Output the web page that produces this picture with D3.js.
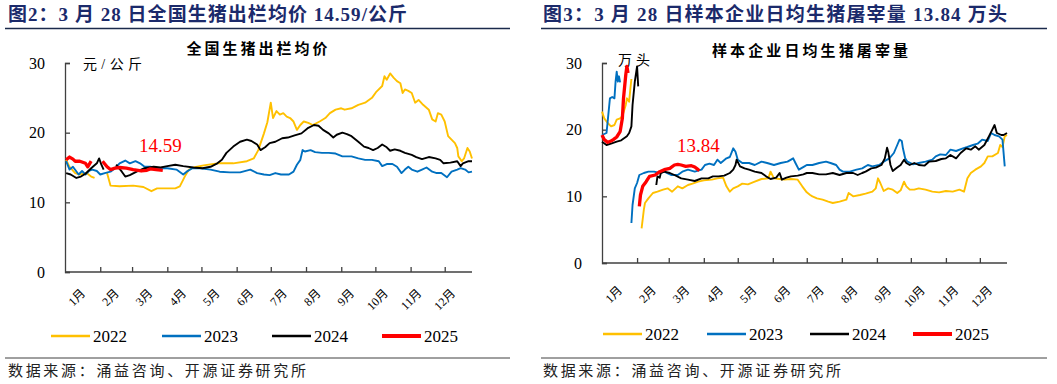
<!DOCTYPE html>
<html>
<head>
<meta charset="utf-8">
<script src="https://cdn.jsdelivr.net/npm/d3@7"></script>
<style>
  body { margin: 0; background: #fff; }
  svg text { font-family: "Liberation Serif", "Noto Sans CJK SC", serif; }
  .cjk { font-family: "Liberation Serif", "Noto Sans CJK SC", sans-serif; }
</style>
</head>
<body>
<svg id="chart" width="1057" height="384"></svg>
<script>
// 年份 / 颜色
const years = ['2022', '2023', '2024', '2025'];
const colors = ['#FFC000', '#0070C0', '#000000', '#FF0000'];
const months = ['1月', '2月', '3月', '4月', '5月', '6月', '7月', '8月', '9月', '10月', '11月', '12月'];
const monthStarts = [0, 31, 59, 90, 120, 151, 181, 212, 243, 273, 304, 334];
const yTicks = [0, 10, 20, 30];

// 图2 全国生猪出栏均价 (元/公斤), [日序, 数值], null = 断开
const price2022 = [[1,16.1],[4,15.1],[9,14.2],[13,14.0],[19,14.2],[23,13.7],[26,13.5],[30,null],[37,14.2],[40,12.4],[48,12.3],[60,12.4],[69,12.2],[76,11.6],[81,12.0],[90,12.0],[97,12.0],[101,12.3],[106,13.9],[109,14.7],[113,15.0],[122,15.3],[134,15.6],[148,15.6],[160,15.9],[166,16.3],[170,17.5],[175,19.9],[178,21.5],[181,24.3],[183,22.1],[186,23.1],[189,22.6],[192,22.8],[195,22.3],[198,22.1],[201,21.6],[204,20.4],[207,21.1],[210,21.6],[214,21.4],[218,21.1],[224,21.6],[229,22.1],[233,22.8],[238,23.3],[243,23.5],[246,23.3],[252,23.5],[258,24.0],[264,24.3],[270,25.0],[274,25.9],[279,26.7],[281,28.1],[283,27.6],[286,28.5],[289,27.9],[292,27.4],[295,27.1],[297,25.7],[299,26.2],[302,26.0],[305,25.7],[308,24.3],[311,24.7],[315,24.0],[320,23.3],[323,21.9],[326,21.6],[328,22.8],[331,22.6],[334,21.6],[337,19.5],[340,19.0],[343,18.5],[345,17.8],[346,16.6],[349,15.9],[351,16.3],[354,17.8],[356,17.3],[358,16.3]];
const price2023 = [[1,15.9],[4,14.7],[7,15.1],[12,14.0],[15,14.5],[18,14.0],[21,14.5],[24,14.7],[28,14.5],[31,14.0],[35,14.2],[40,14.4],[44,14.9],[48,15.6],[53,16.0],[57,15.6],[62,15.9],[66,15.6],[70,15.1],[75,15.1],[81,14.9],[90,14.9],[98,14.7],[104,14.0],[107,14.4],[112,14.9],[119,14.9],[128,14.7],[136,14.4],[145,14.3],[154,14.3],[163,14.7],[169,14.2],[175,14.0],[180,13.9],[185,14.2],[190,14.0],[197,14.0],[201,14.4],[204,15.4],[207,16.1],[209,17.5],[211,17.3],[216,17.5],[220,17.2],[226,17.1],[232,17.1],[238,17.0],[244,16.6],[252,16.6],[258,16.3],[264,16.1],[270,16.1],[276,15.9],[279,15.2],[283,15.5],[288,15.5],[292,15.1],[296,14.2],[299,14.7],[302,15.1],[305,14.7],[310,14.4],[314,14.7],[318,15.0],[323,14.4],[327,14.2],[331,14.2],[336,13.6],[340,14.4],[345,14.7],[348,14.9],[352,14.7],[355,14.3],[358,14.4]];
const price2024 = [[1,14.2],[5,14.0],[10,13.5],[14,13.7],[18,14.1],[23,14.9],[28,15.6],[30,16.3],[32,15.4],[34,14.7],[35,null],[45,15.4],[50,14.4],[53,13.7],[57,13.9],[63,14.4],[70,14.9],[78,15.1],[84,15.0],[90,15.2],[97,15.4],[104,15.2],[113,15.0],[121,14.9],[128,15.1],[134,15.6],[138,16.1],[142,17.1],[148,18.0],[154,18.7],[160,19.0],[164,18.8],[169,18.3],[172,17.5],[176,17.9],[180,18.5],[185,18.7],[191,19.2],[196,19.3],[202,19.6],[208,19.9],[214,20.7],[219,21.1],[223,21.0],[227,20.4],[232,19.9],[236,19.3],[239,19.7],[244,20.0],[248,19.8],[252,19.5],[258,18.7],[263,18.0],[267,17.8],[271,17.5],[275,17.8],[279,18.3],[283,17.9],[286,17.4],[290,17.6],[295,17.4],[299,17.1],[305,16.8],[309,16.5],[314,16.2],[320,16.5],[326,16.3],[330,16.1],[333,15.6],[339,15.7],[345,15.9],[348,15.2],[350,15.6],[355,15.9],[358,15.9]];
const price2025 = [[1,16.1],[4,16.5],[7,16.2],[9,15.9],[13,15.9],[18,15.6],[20,15.1],[23,15.9],[24,null],[33,15.9],[37,15.1],[40,14.7],[44,14.9],[48,15.0],[54,14.9],[60,14.7],[67,14.5],[72,14.6],[75,14.8],[80,14.7],[86,14.59]];

// 图3 样本企业日均生猪屠宰量 (万头)
const slaughter2022 = [[0,22.7],[2,21.7],[5,21.0],[8,20.5],[11,20.7],[13,21.5],[16,21.7],[18,22.0],[21,23.7],[22,24.7],[24,24.2],[25,26.0],[26,27.6],[27,null],[35,5.2],[37,8.0],[38,9.0],[41,9.7],[45,10.5],[49,10.7],[54,11.0],[58,11.2],[62,10.7],[67,11.5],[71,11.2],[76,11.7],[80,11.9],[85,12.2],[90,12.4],[97,12.5],[102,12.7],[107,12.8],[110,11.5],[113,10.7],[116,11.2],[120,11.5],[124,11.9],[129,11.8],[135,12.2],[141,12.6],[147,12.7],[149,13.7],[152,12.7],[157,12.6],[161,12.5],[167,12.6],[173,12.5],[177,11.5],[181,10.6],[184,10.2],[186,10.0],[190,9.7],[195,9.5],[200,9.2],[204,9.0],[210,9.2],[216,9.5],[218,10.5],[222,10.0],[228,10.2],[233,10.4],[239,10.7],[242,11.2],[244,12.7],[246,12.0],[249,10.8],[253,11.2],[257,11.0],[261,10.5],[264,10.9],[267,12.2],[269,11.5],[272,11.0],[276,11.0],[280,11.2],[286,11.0],[292,10.7],[298,10.6],[304,10.8],[310,10.7],[316,11.0],[320,10.7],[323,12.7],[326,13.5],[330,14.0],[335,14.5],[338,15.0],[341,16.0],[345,16.0],[350,16.5],[352,17.7],[354,17.4],[356,19.0],[358,19.2]];
const slaughter2023 = [[0,19.2],[4,19.5],[5,21.2],[7,24.7],[9,24.9],[11,24.7],[12,27.2],[13,28.7],[14,27.2],[15,28.0],[16,27.1],[17,null],[26,6.0],[27,8.7],[29,11.2],[31,12.0],[33,13.2],[37,13.5],[41,13.7],[46,13.7],[51,13.5],[55,13.7],[61,13.2],[67,13.2],[71,13.7],[76,14.0],[82,13.7],[88,14.0],[91,14.7],[95,14.9],[99,14.7],[102,15.5],[105,15.0],[110,15.7],[113,15.9],[116,17.2],[118,16.7],[120,15.5],[124,15.0],[130,15.0],[135,14.7],[141,15.2],[146,15.0],[152,14.7],[158,15.0],[164,15.2],[169,15.7],[171,15.0],[174,14.0],[179,14.5],[181,14.7],[186,14.7],[192,15.0],[198,15.2],[202,15.0],[207,14.7],[210,14.0],[213,13.7],[219,13.7],[225,14.0],[230,14.2],[235,14.7],[239,14.5],[245,14.7],[249,15.2],[254,15.7],[258,16.5],[261,17.7],[263,18.5],[265,18.3],[266,17.2],[268,15.7],[270,15.2],[275,14.8],[280,15.0],[286,15.2],[292,15.5],[295,16.0],[299,16.3],[304,16.2],[308,17.0],[313,16.8],[319,17.2],[323,17.4],[328,17.7],[332,17.9],[336,18.5],[341,18.3],[344,19.5],[347,19.2],[351,19.0],[354,18.5],[356,14.5]];
const slaughter2024 = [[0,18.2],[4,17.7],[8,17.9],[13,18.2],[17,18.4],[22,19.0],[24,19.5],[26,20.5],[27,23.7],[29,27.2],[31,29.5],[32,26.5],[33,null],[48,11.7],[49,13.0],[51,12.8],[52,13.5],[55,13.7],[60,13.5],[64,13.2],[70,12.7],[76,12.5],[82,12.3],[88,12.7],[94,12.7],[98,13.0],[103,13.0],[108,13.1],[113,13.5],[116,14.0],[118,14.7],[119,15.5],[122,14.5],[126,14.2],[130,14.0],[135,13.7],[141,13.5],[145,13.0],[149,12.6],[154,12.8],[157,13.5],[159,12.5],[163,12.8],[167,13.0],[173,13.1],[178,13.3],[181,13.5],[186,13.5],[192,13.3],[198,13.3],[204,13.5],[210,13.2],[216,13.5],[222,13.5],[226,13.2],[230,13.5],[233,13.7],[238,14.2],[242,14.3],[247,14.7],[250,15.7],[252,17.3],[253,16.7],[255,14.7],[257,13.8],[260,14.2],[264,14.7],[267,15.5],[269,15.0],[272,14.7],[276,15.0],[280,14.7],[285,14.6],[289,15.2],[295,15.3],[300,15.6],[304,15.7],[308,16.2],[313,15.7],[317,16.5],[322,17.2],[326,17.0],[330,17.5],[333,17.0],[338,17.7],[342,19.0],[345,20.0],[347,20.7],[349,19.5],[353,19.2],[355,19.2],[358,19.5]];
const slaughter2025 = [[0,19.2],[2,18.5],[5,18.1],[8,18.3],[10,18.5],[13,18.9],[16,19.7],[18,21.7],[19,24.7],[21,28.2],[22,29.5],[23,28.5],[24,null],[33,8.5],[34,10.2],[36,11.5],[39,12.2],[42,13.0],[47,13.2],[51,13.7],[55,14.0],[60,14.2],[64,14.7],[67,14.8],[70,14.7],[74,14.5],[79,14.6],[82,14.4],[85,14.0],[86,13.84]];

const svg = d3.select('#chart');

function drawPanel(o) {
  const g = svg.append('g');

  // 标题
  g.append('text')
    .attr('x', o.titleX).attr('y', 21)
    .attr('fill', '#1b2a6b').attr('font-weight', 'bold').attr('font-size', 19)
    .attr('textLength', o.titleLen).attr('lengthAdjust', 'spacing')
    .text(o.title);
  g.append('line')
    .attr('x1', o.left).attr('x2', o.right).attr('y1', 28.5).attr('y2', 28.5)
    .attr('stroke', '#1b2a4b').attr('stroke-width', 1.3);

  // 图内标题
  g.append('text')
    .attr('x', o.subX).attr('y', o.subY).attr('text-anchor', 'middle')
    .attr('font-weight', 'bold').attr('font-size', 15)
    .attr('textLength', o.subLen).attr('lengthAdjust', 'spacing')
    .text(o.sub);

  // 比例尺
  let x = d3.scaleLinear().domain([0, 358]).range([o.x0, o.x1]);
  let y = d3.scaleLinear().domain([0, 30]).range([o.yBottom, o.yTop]);

  // Y 轴
  let yAxis = d3.axisLeft(y).tickValues(yTicks).tickSize(-5).tickPadding(20);
  let ya = g.append('g').attr('transform', `translate(${o.x0},0)`).call(yAxis);
  ya.select('.domain').attr('stroke', '#404040').attr('stroke-width', 1.3);
  ya.selectAll('.tick line').attr('stroke', '#404040').attr('stroke-width', 1.3);
  ya.selectAll('.tick text').attr('font-size', 16).attr('fill', '#000')
    .attr('font-family', '"Liberation Serif", serif');

  // X 轴 (月份分界刻度)
  let xAxis = d3.axisBottom(x).tickValues(monthStarts.slice(1)).tickSize(-5).tickFormat('');
  let xa = g.append('g').attr('transform', `translate(0,${o.yBottom})`).call(xAxis);
  xa.select('.domain').attr('stroke', '#404040').attr('stroke-width', 1.3).attr('d', `M${o.x0},0H${o.x1}`);
  xa.selectAll('.tick line').attr('stroke', '#404040').attr('stroke-width', 1.3);

  // 月份标签
  let mScale = d3.scalePoint().domain(months).range([o.x0 + 21, o.x0 + 391]);
  g.selectAll('.mlab').data(months).enter().append('text')
    .attr('class', 'mlab')
    .attr('text-anchor', 'end').attr('font-size', 12)
    .attr('transform', d => `translate(${mScale(d)},${o.yBottom + o.labelDy}) rotate(-45)`)
    .text(d => d);

  // 单位
  g.append('text')
    .attr('x', o.unitX).attr('y', o.unitY).attr('font-size', 14)
    .attr('textLength', o.unitLen).attr('lengthAdjust', 'spacing')
    .text(o.unit);

  // 折线
  let line = d3.line()
    .defined(d => d[1] !== null)
    .x(d => x(d[0]))
    .y(d => y(d[1]));

  o.series.forEach((s, i) => {
    g.append('path')
      .datum(s)
      .attr('fill', 'none')
      .attr('stroke', colors[i])
      .attr('stroke-width', i === 3 ? 3.3 : 1.9)
      .attr('stroke-linejoin', 'round')
      .attr('d', line);
  });

  // 最新值标注
  let last = o.series[3][o.series[3].length - 1];
  g.append('text')
    .attr('x', o.noteX).attr('y', o.noteY)
    .attr('fill', '#FF0000').attr('font-size', 19)
    .text(d3.format('.2f')(last[1]));

  // 图例
  years.forEach((yr, i) => {
    let lx = o.legendX[i];
    g.append('line')
      .attr('x1', lx).attr('x2', lx + 39).attr('y1', o.legendY).attr('y2', o.legendY)
      .attr('stroke', colors[i]).attr('stroke-width', i === 3 ? 4 : 2.5);
    g.append('text')
      .attr('x', lx + 42).attr('y', o.legendY + 6).attr('font-size', 17)
      .text(yr);
  });

  // 数据来源
  g.append('line')
    .attr('x1', o.left).attr('x2', o.right).attr('y1', 358).attr('y2', 358)
    .attr('stroke', '#404040').attr('stroke-width', 1);
  g.append('text')
    .attr('x', o.titleX).attr('y', 376).attr('font-size', 15).attr('fill', '#222')
    .attr('textLength', 298).attr('lengthAdjust', 'spacing')
    .text('数据来源：涌益咨询、开源证券研究所');
}

drawPanel({
  title: '图2：3 月 28 日全国生猪出栏均价 14.59/公斤', titleX: 8, titleLen: 399,
  left: 5, right: 510,
  sub: '全国生猪出栏均价', subX: 257, subY: 54, subLen: 141,
  x0: 65, x1: 472, yTop: 63, yBottom: 272, labelDy: 22,
  unit: '元/公斤', unitX: 83, unitY: 69, unitLen: 59,
  series: [price2022, price2023, price2024, price2025],
  noteX: 139, noteY: 152,
  legendX: [51, 162, 272, 382], legendY: 336
});

drawPanel({
  title: '图3：3 月 28 日样本企业日均生猪屠宰量 13.84 万头', titleX: 543, titleLen: 464,
  left: 541, right: 1047,
  sub: '样本企业日均生猪屠宰量', subX: 810, subY: 56, subLen: 196,
  x0: 602, x1: 1007, yTop: 63, yBottom: 263, labelDy: 28,
  unit: '万头', unitX: 618, unitY: 65, unitLen: 32,
  series: [slaughter2022, slaughter2023, slaughter2024, slaughter2025],
  noteX: 677, noteY: 152,
  legendX: [603, 707, 810, 913], legendY: 334
});
</script>
</body>
</html>
